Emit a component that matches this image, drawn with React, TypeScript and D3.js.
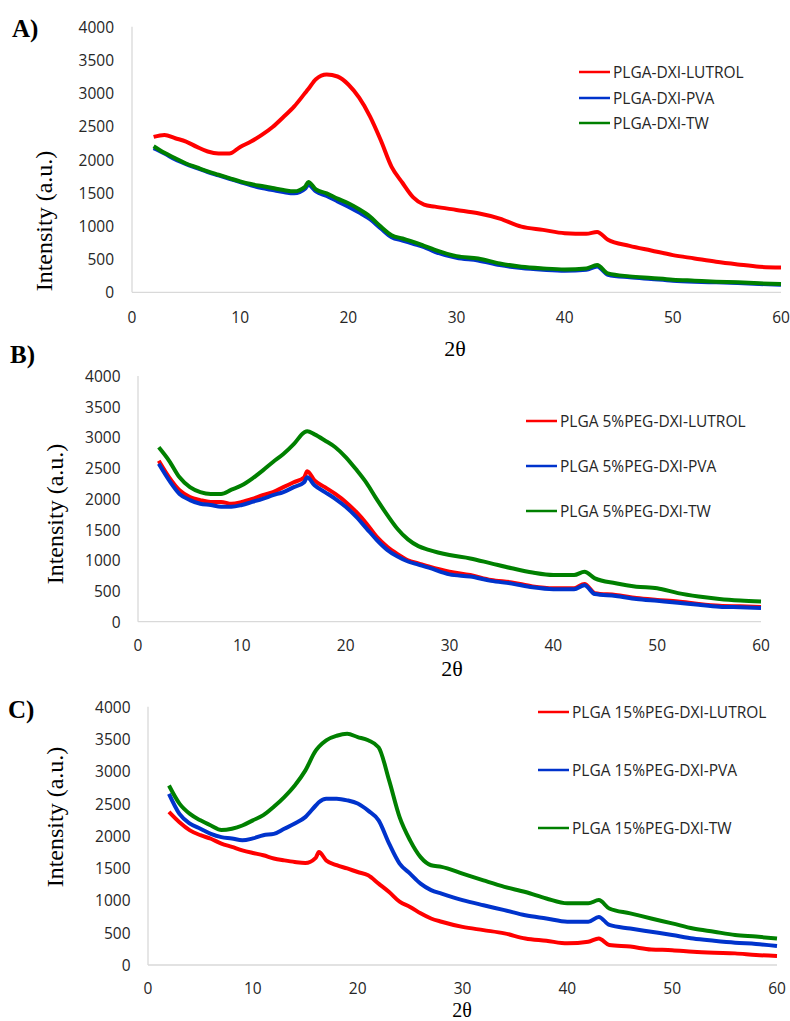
import * as d3 from "d3";

// 2θ positions the curves were read at (degrees)
const twoTheta = [2, 3, 4, 5, 6, 7, 8, 9, 10, 11, 12, 13, 14, 15, 16, 16.3, 17, 18, 19, 20, 21, 22, 23, 24, 25, 26, 27, 28, 30, 32, 34, 36, 38, 40, 42, 43, 44, 46, 48, 50, 52, 54, 56, 58, 60];

// A) PLGA
const aLutrol = [2340, 2370, 2320, 2270, 2190, 2120, 2090, 2090, 2190, 2270, 2370, 2490, 2640, 2800, 3000, 3060, 3210, 3280, 3250, 3130, 2930, 2650, 2290, 1890, 1650, 1430, 1320, 1290, 1240, 1190, 1110, 990, 940, 890, 880, 910, 790, 700, 630, 560, 510, 460, 420, 385, 375];
const aPva = [2170, 2090, 2000, 1930, 1870, 1810, 1760, 1710, 1660, 1610, 1570, 1540, 1510, 1490, 1560, 1620, 1520, 1450, 1370, 1290, 1200, 1100, 960, 830, 780, 730, 680, 610, 520, 480, 410, 365, 340, 325, 340, 390, 265, 225, 200, 175, 160, 150, 140, 125, 115];
const aTw = [2200, 2100, 2020, 1940, 1880, 1820, 1770, 1720, 1670, 1630, 1600, 1570, 1540, 1520, 1590, 1660, 1550, 1490, 1410, 1340, 1250, 1140, 990, 860, 810, 760, 700, 640, 545, 510, 435, 385, 360, 345, 360, 410, 285, 240, 215, 190, 175, 160, 150, 135, 125];

// B) PLGA 5%PEG
const bLutrol = [2620, 2350, 2140, 2030, 1980, 1950, 1950, 1920, 1950, 2000, 2060, 2110, 2190, 2270, 2350, 2450, 2300, 2190, 2080, 1950, 1790, 1600, 1380, 1220, 1100, 1000, 950, 900, 815, 760, 680, 640, 575, 545, 545, 615, 465, 435, 385, 355, 330, 290, 260, 250, 240];
const bPva = [2570, 2300, 2080, 1980, 1920, 1900, 1870, 1870, 1900, 1950, 2000, 2060, 2110, 2190, 2270, 2350, 2220, 2110, 2000, 1870, 1710, 1520, 1330, 1170, 1060, 980, 930, 880, 770, 735, 665, 620, 560, 530, 530, 595, 450, 420, 370, 340, 310, 275, 245, 235, 225];
const bTw = [2840, 2620, 2350, 2190, 2110, 2080, 2080, 2150, 2220, 2330, 2460, 2600, 2730, 2890, 3080, 3100, 3050, 2950, 2840, 2680, 2480, 2260, 1990, 1740, 1510, 1340, 1230, 1170, 1085, 1030, 950, 870, 800, 760, 760, 815, 705, 625, 570, 545, 465, 410, 370, 345, 330];

// C) PLGA 15%PEG
const cLutrol = [2370, 2210, 2085, 2010, 1955, 1880, 1830, 1775, 1735, 1700, 1650, 1620, 1595, 1580, 1660, 1750, 1620, 1545, 1495, 1440, 1390, 1260, 1130, 980, 900, 800, 720, 670, 590, 540, 490, 410, 375, 335, 360, 410, 310, 285, 240, 230, 205, 190, 180, 155, 140];
const cPva = [2650, 2340, 2190, 2110, 2030, 1980, 1960, 1930, 1960, 2010, 2030, 2110, 2190, 2290, 2470, 2520, 2575, 2575, 2550, 2500, 2390, 2240, 1880, 1570, 1415, 1260, 1160, 1105, 1005, 925, 850, 770, 720, 670, 670, 745, 620, 565, 515, 465, 410, 375, 345, 325, 295];
const cTw = [2780, 2500, 2340, 2240, 2160, 2090, 2110, 2160, 2240, 2320, 2450, 2600, 2780, 3010, 3320, 3380, 3480, 3550, 3580, 3530, 3480, 3370, 2860, 2290, 1930, 1670, 1545, 1520, 1415, 1310, 1210, 1130, 1030, 955, 955, 1005, 875, 800, 720, 645, 565, 515, 465, 440, 410];

const yTicks = [0, 500, 1000, 1500, 2000, 2500, 3000, 3500, 4000];
const xTicks = [0, 10, 20, 30, 40, 50, 60];

const RED = "#ff0000";
const BLUE = "#0033cc";
const GREEN = "#008000";

const SANS = "'Open Sans', sans-serif";
const SERIF = "'Liberation Serif', 'Times New Roman', serif";

const panels = [
  {
    tag: "A)", tagX: 12, tagY: 37,
    left: 132, right: 781, top: 26.7, bottom: 292.3,
    yLabelGap: 18, xLabelY: 316.7, titleX: 455, titleY: 356, titleSize: 22, yTitleX: 44, yTitleY: 221,
    legX: 579, legY: [72, 98, 123],
    series: [
      { name: "PLGA-DXI-LUTROL", color: RED, values: aLutrol },
      { name: "PLGA-DXI-PVA", color: BLUE, values: aPva },
      { name: "PLGA-DXI-TW", color: GREEN, values: aTw },
    ],
  },
  {
    tag: "B)", tagX: 10, tagY: 363,
    left: 138, right: 761, top: 376, bottom: 621.7,
    yLabelGap: 17.5, xLabelY: 645, titleX: 452, titleY: 676, titleSize: 22, yTitleX: 55, yTitleY: 514,
    legX: 526, legY: [421, 466, 511],
    series: [
      { name: "PLGA 5%PEG-DXI-LUTROL", color: RED, values: bLutrol },
      { name: "PLGA 5%PEG-DXI-PVA", color: BLUE, values: bPva },
      { name: "PLGA 5%PEG-DXI-TW", color: GREEN, values: bTw },
    ],
  },
  {
    tag: "C)", tagX: 8, tagY: 718,
    left: 148, right: 777, top: 706.7, bottom: 965,
    yLabelGap: 17.5, xLabelY: 988.3, titleX: 462, titleY: 1016.5, titleSize: 20, yTitleX: 55, yTitleY: 817,
    legX: 538, legY: [712, 770, 828],
    series: [
      { name: "PLGA 15%PEG-DXI-LUTROL", color: RED, values: cLutrol },
      { name: "PLGA 15%PEG-DXI-PVA", color: BLUE, values: cPva },
      { name: "PLGA 15%PEG-DXI-TW", color: GREEN, values: cTw },
    ],
  },
];

function Panel({ p }) {
  const x = d3.scaleLinear().domain([0, 60]).range([p.left, p.right]);
  const y = d3.scaleLinear().domain([0, 4000]).range([p.bottom, p.top]);

  const line = d3
    .line<number>()
    .x((_, i) => x(twoTheta[i]))
    .y((d) => y(d))
    .curve(d3.curveMonotoneX);

  return (
    <g>
      <text x={p.tagX} y={p.tagY} fontFamily={SERIF} fontWeight="bold" fontSize={25} fill="#000">
        {p.tag}
      </text>

      {/* axes: thin gray lines, no ticks */}
      <line x1={p.left} x2={p.left} y1={p.top} y2={p.bottom} stroke="#d9d9d9" strokeWidth={1.3} />
      <line x1={p.left} x2={p.right} y1={p.bottom} y2={p.bottom} stroke="#d9d9d9" strokeWidth={1.3} />

      {yTicks.map((t) => (
        <text key={t} x={p.left - p.yLabelGap} y={y(t)} textAnchor="end" dominantBaseline="central"
          fontFamily={SANS} fontSize={15.5} fill="#262626">
          {t}
        </text>
      ))}
      {xTicks.map((t) => (
        <text key={t} x={x(t)} y={p.xLabelY} textAnchor="middle" dominantBaseline="central"
          fontFamily={SANS} fontSize={15.5} fill="#262626">
          {t}
        </text>
      ))}

      <text transform={`translate(${p.yTitleX},${p.yTitleY}) rotate(-90)`} textAnchor="middle"
        dominantBaseline="central" fontFamily={SERIF} fontSize={24} fill="#000">
        Intensity (a.u.)
      </text>
      <text x={p.titleX} y={p.titleY} textAnchor="middle" fontFamily={SERIF} fontSize={p.titleSize} fill="#000">
        2θ
      </text>

      {p.series.map((s) => (
        <path key={s.name} d={line(s.values)} fill="none" stroke={s.color} strokeWidth={4}
          strokeLinejoin="round" />
      ))}

      {p.series.map((s, i) => (
        <g key={s.name} transform={`translate(${p.legX},${p.legY[i]})`}>
          <line x1={0} x2={31} y1={0} y2={0} stroke={s.color} strokeWidth={2.5} />
          <text x={34} y={0} dominantBaseline="central" fontFamily={SANS} fontSize={15.5} fill="#262626">
            {s.name}
          </text>
        </g>
      ))}
    </g>
  );
}

export default function App() {
  return (
    <svg width={790} height={1021} style={{ position: "absolute", left: 0, top: 0, background: "#fff" }}>
      {panels.map((p) => (
        <Panel key={p.tag} p={p} />
      ))}
    </svg>
  );
}
